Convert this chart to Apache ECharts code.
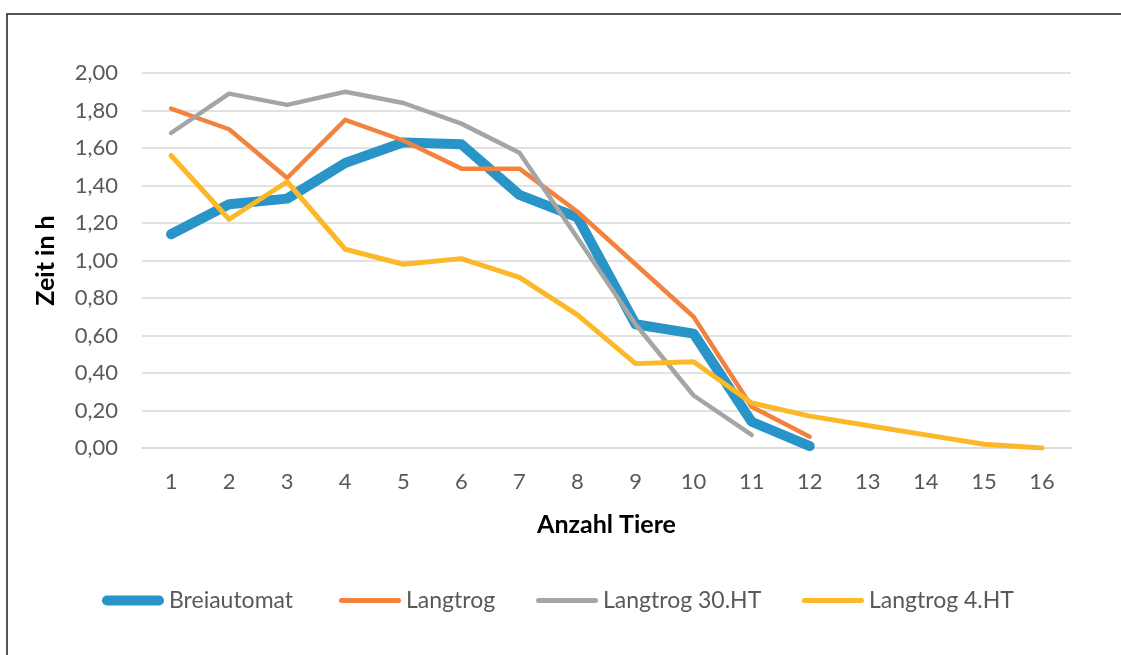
<!DOCTYPE html>
<html>
<head>
<meta charset="utf-8">
<script src="https://cdn.jsdelivr.net/npm/echarts@6/dist/echarts.min.js"></script>
<style>
html,body{margin:0;padding:0;background:#fff;}
#chart{width:1121px;height:655px;}
</style>
</head>
<body>
<div id="chart"></div>
<script>
const categories = ['1','2','3','4','5','6','7','8','9','10','11','12','13','14','15','16'];
const seriesNames = ['Breiautomat','Langtrog','Langtrog 30.HT','Langtrog 4.HT'];
const breiautomat = [1.14,1.30,1.33,1.52,1.63,1.62,1.35,1.23,0.66,0.61,0.14,0.01];
const langtrog = [1.81,1.70,1.44,1.75,1.64,1.49,1.49,1.26,0.98,0.70,0.22,0.06];
const langtrog30 = [1.68,1.89,1.83,1.90,1.84,1.73,1.575,1.12,0.66,0.28,0.07];
const langtrog4 = [1.56,1.22,1.42,1.06,0.98,1.01,0.91,0.71,0.45,0.46,0.24,0.17,0.12,0.07,0.02,0.00];

const colors = ['#2894c8','#f4823f','#a5a5a5','#fbb829'];
const widths = [10,4.5,4.5,5];
const datasets = [breiautomat, langtrog, langtrog30, langtrog4];
const font = 'Lato, "Open Sans", sans-serif';

const legendLeft = [97, 334, 531, 797];
const legendH = [10,5,5,5];
const pillThick = 'path://M5,0 L57,0 A5,5 0 0 1 57,10 L5,10 A5,5 0 0 1 5,0 Z';
const pillThin = 'path://M2.5,0 L59.5,0 A2.5,2.5 0 0 1 59.5,5 L2.5,5 A2.5,2.5 0 0 1 2.5,0 Z';

const chart = echarts.init(document.getElementById('chart'));
chart.setOption({
  animation:false,
  backgroundColor:'#fff',
  graphic:[{type:'rect',shape:{x:7,y:14,width:1200,height:700},style:{fill:'none',stroke:'#1e1e1e',lineWidth:1.5},silent:true,z:-1}],
  grid:{left:142,right:50,top:73,bottom:207,containLabel:false},
  legend: seriesNames.map((n,i)=>({
    top:584, left:legendLeft[i],
    itemWidth:62, itemHeight:legendH[i], itemGap:0,
    data:[{name:n, icon: i===0?pillThick:pillThin}],
    textStyle:{color:'#595959',fontSize:23,fontFamily:font}
  })),
  xAxis:{
    type:'category', data:categories, boundaryGap:true,
    name:'Anzahl Tiere', nameLocation:'middle', nameGap:64,
    nameTextStyle:{color:'#000',fontSize:25,fontWeight:'bold',fontFamily:font},
    axisLine:{lineStyle:{color:'#d9d9d9',width:1.5}},
    axisTick:{show:false},
    axisLabel:{color:'#595959',fontSize:22,fontFamily:font,margin:23}
  },
  yAxis:{
    type:'value', min:0, max:2, interval:0.2,
    name:'Zeit in h', nameLocation:'middle', nameGap:84, nameRotate:90,
    nameTextStyle:{color:'#000',fontSize:25,fontWeight:'bold',fontFamily:font},
    axisLine:{show:false}, axisTick:{show:false},
    splitLine:{lineStyle:{color:'#d9d9d9',width:1.5}},
    axisLabel:{color:'#595959',fontSize:22,fontFamily:font,margin:24,
      formatter:v=>v.toFixed(2).replace('.',',')}
  },
  series: seriesNames.map((n,i)=>({
    name:n, type:'line', data:datasets[i], symbol:'none',
    color:colors[i],
    lineStyle:{color:colors[i],width:widths[i],cap:'round',join:'round'},
    z: i===0?2:3
  }))
});
</script>
</body>
</html>
